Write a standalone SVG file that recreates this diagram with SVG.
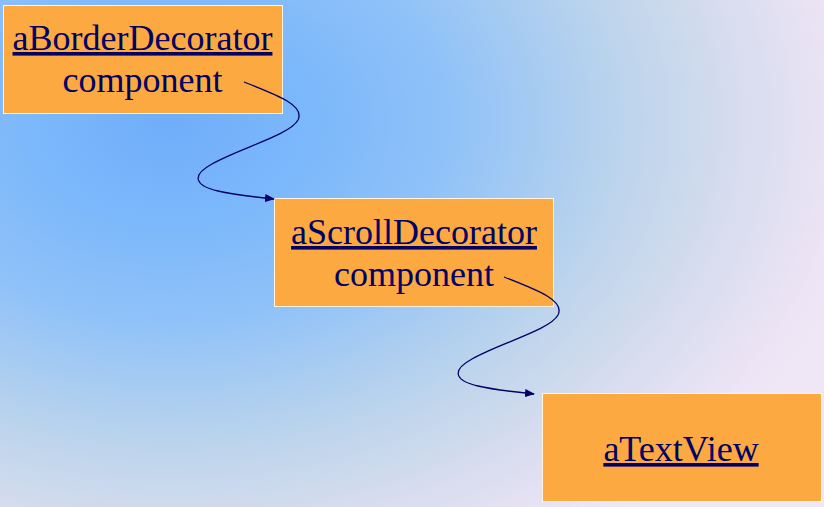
<svg xmlns="http://www.w3.org/2000/svg" width="824" height="507" viewBox="0 0 824 507">
<defs>
<radialGradient id="bg" gradientUnits="userSpaceOnUse" cx="170" cy="120" r="720" gradientTransform="translate(170 120) scale(1 0.72) translate(-170 -120)">
<stop offset="0" stop-color="#70adfa"/>
<stop offset="0.2" stop-color="#7cb8fb"/>
<stop offset="0.39" stop-color="#90c2f8"/>
<stop offset="0.63" stop-color="#bcd4ec"/>
<stop offset="0.78" stop-color="#d5dcee"/>
<stop offset="0.94" stop-color="#ede4f5"/>
<stop offset="1" stop-color="#efe6f6"/>
</radialGradient>
<marker id="arr" markerWidth="10" markerHeight="8" refX="9" refY="4" orient="auto" markerUnits="userSpaceOnUse">
<path d="M0,0 L10,4 L0,8 Z" fill="#000066"/>
</marker>
<style>
.box{fill:#fba940;stroke:#fff4e0;stroke-width:1}
.t{font-size:36px;fill:#000066;text-anchor:middle}
.u{text-decoration:underline}
.c{fill:none;stroke:#000066;stroke-width:1.3}
</style>
</defs>
<rect width="824" height="507" fill="url(#bg)"/>
<g font-family="Liberation Serif, Times New Roman, DejaVu Serif, serif">
<g id="aBorderDecorator">
<rect class="box" x="3.5" y="5.5" width="279" height="108"/>
<text class="t u" x="142.5" y="50">aBorderDecorator</text>
<text class="t" x="142.5" y="92">component</text>
</g>
<g id="aScrollDecorator">
<rect class="box" x="274.5" y="198.5" width="279" height="108"/>
<text class="t u" x="414" y="244">aScrollDecorator</text>
<text class="t" x="414" y="286">component</text>
</g>
<g id="aTextView">
<rect class="box" x="542.5" y="393.5" width="279" height="108"/>
<text class="t u" x="681" y="461">aTextView</text>
</g>
</g>
<g id="connectors">
<path class="c" marker-end="url(#arr)" d="M244,82 C280,96 305,106 298,120 C290,135 240,148 212,164 C190,176 196,186 218,191 C235,195 255,197 274,199"/>
<path class="c" marker-end="url(#arr)" d="M504,277 C540,291 565,301 558,315 C550,330 500,343 472,359 C450,371 456,381 478,386 C495,390 515,392 534,394"/>
</g>
</svg>
